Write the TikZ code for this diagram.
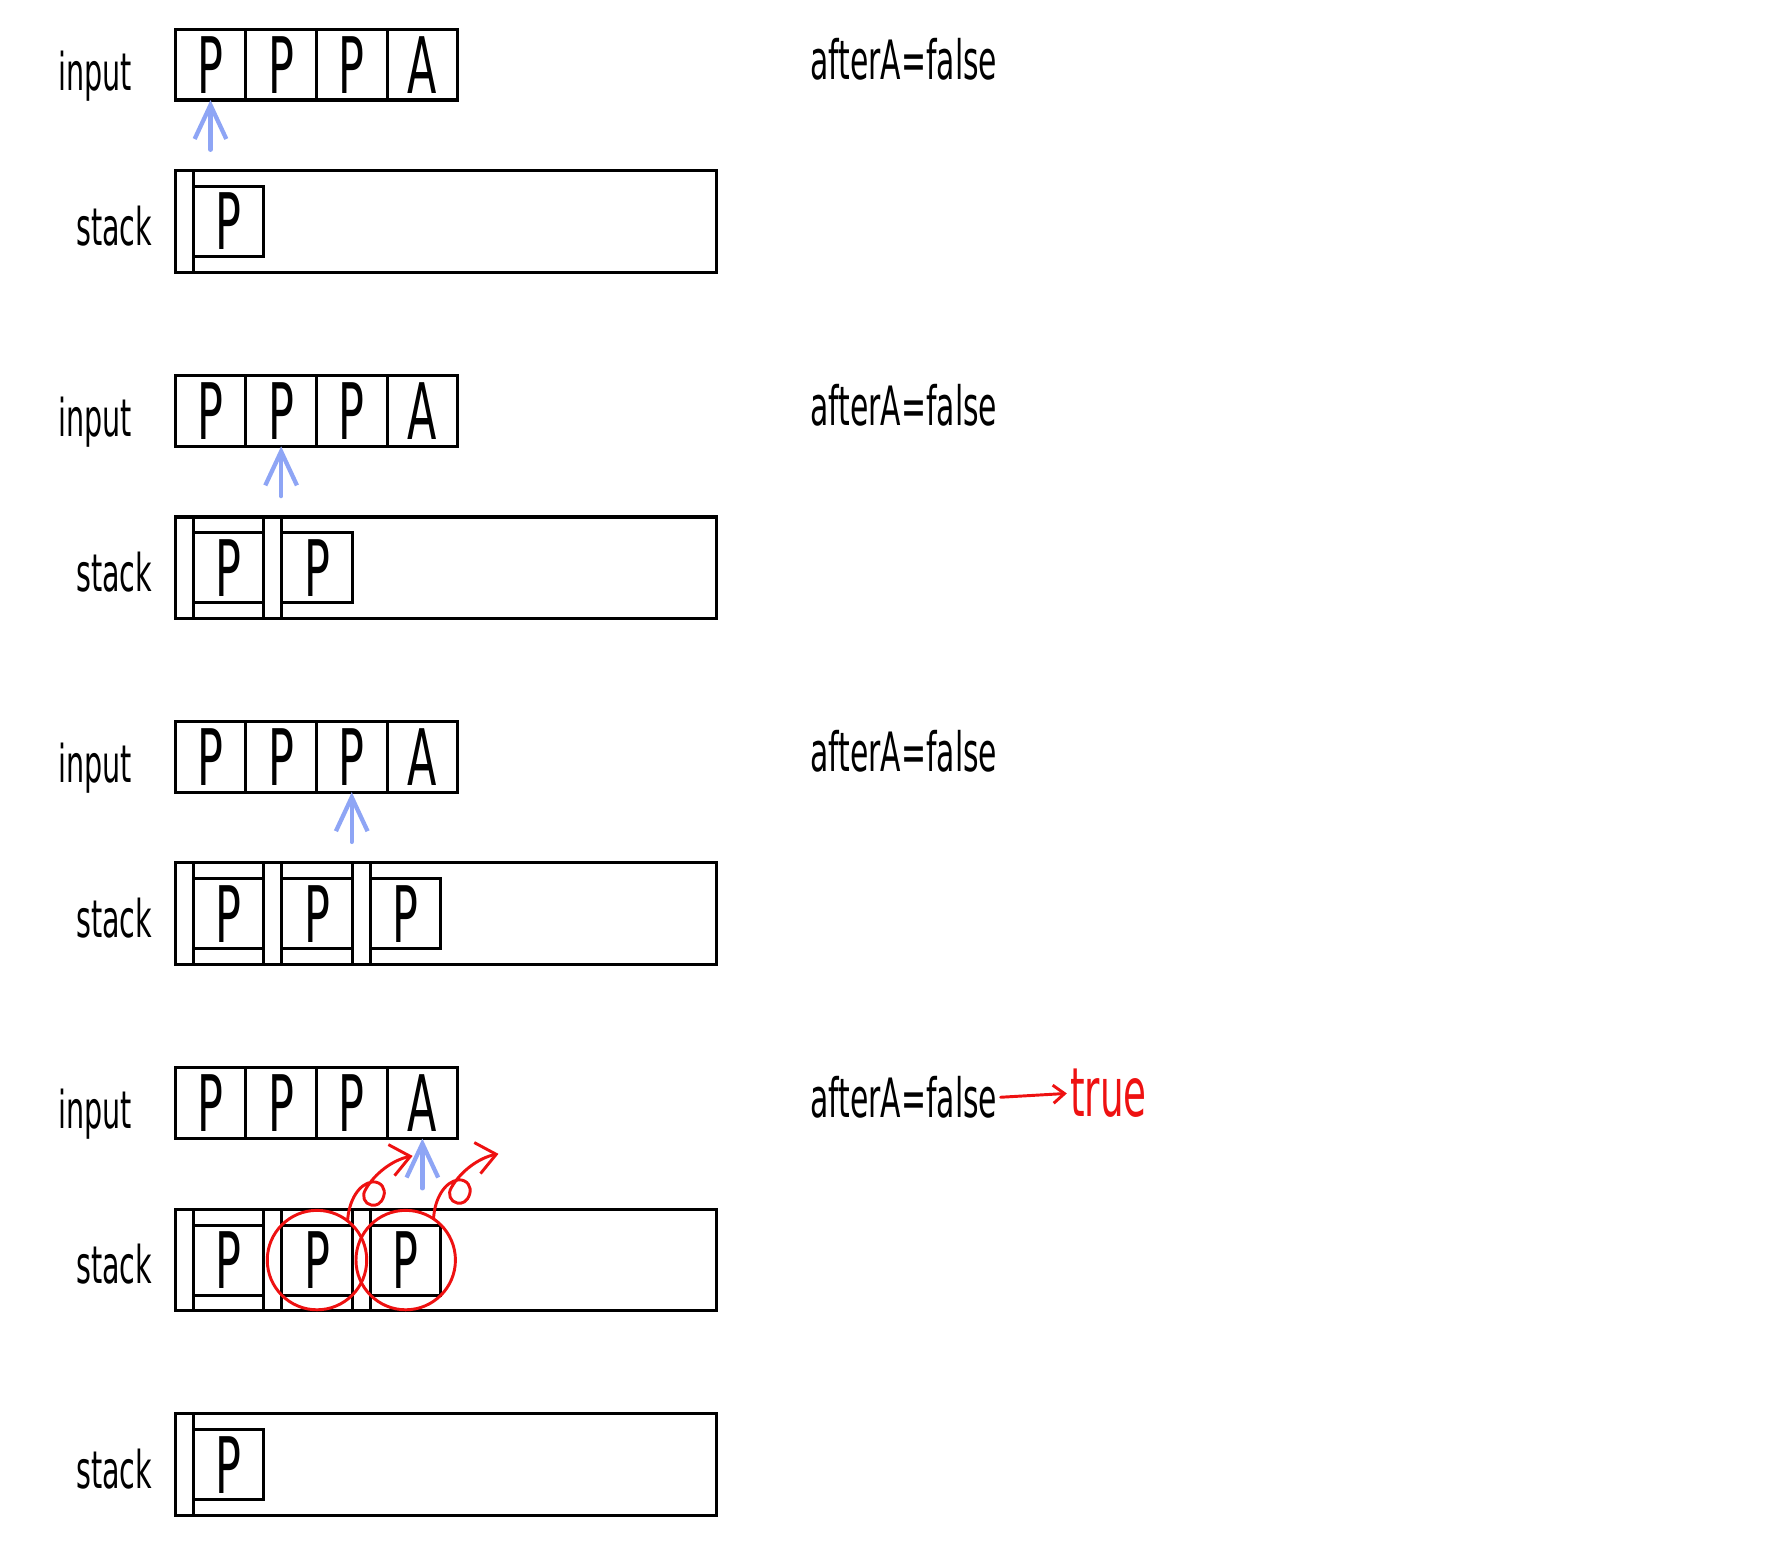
\documentclass[tikz,border=0pt]{standalone}
\usepackage{fontspec}
\newfontfamily\hand[FakeStretch=0.55]{DejaVu Sans}
\usetikzlibrary{arrows.meta}
\definecolor{penblue}{HTML}{8EA5F5}
\definecolor{penred}{HTML}{EE1111}
\begin{document}
\begin{tikzpicture}[x=1pt,y=-1pt,
  every node/.style={inner sep=0pt, outer sep=0pt},
  cell/.style={draw, line width=2.7pt, minimum width=62.5pt, minimum height=62.5pt, anchor=north west, font=\hand\fontsize{69}{69}\selectfont},
  slot/.style={draw, line width=2.7pt, minimum width=62pt, minimum height=62pt, anchor=north west, font=\hand\fontsize{69}{69}\selectfont},
  stackbox/.style={draw, line width=2.7pt, minimum width=479pt, minimum height=90pt, anchor=north west},
  marker/.style={draw, line width=2.7pt, minimum width=16pt, minimum height=90pt, anchor=north west},
  lbl/.style={font=\hand\fontsize{46}{46}\selectfont},
  flag/.style={font=\hand\fontsize{48}{48}\selectfont, anchor=base west},
  truetext/.style={font=\hand\fontsize{60}{60}\selectfont, anchor=base west, text=penred},
  pointer/.style={draw=penblue, line width=3.8pt, line cap=round, -{Straight Barb[length=30pt,width=28pt]}},
  redpen/.style={draw=penred, line width=2.6pt, line cap=round, line join=round},
  ring/.style={circle, draw=penred, line width=2.6pt, minimum size=88pt},
  curl/.pic={
    \draw[redpen, -{Straight Barb[length=17pt,width=28pt]}] (0,0)
      .. controls (1,-18) and (10,-33) .. (22,-34.5)
      .. controls (30,-35) and (34,-28) .. (32,-22)
      .. controls (30,-15) and (25,-13) .. (21,-14)
      .. controls (15,-15) and (12,-22) .. (16,-28)
      .. controls (24,-42) and (40,-54) .. (57.5,-57.5);
  }
]
\useasboundingbox (0,0) rectangle (1568,1367);

\foreach \k/\dy/\n in {1/0/1, 2/306.5/2, 3/612.5/3, 4/919/3} {
  \begin{scope}[shift={(0,\dy)}]
    \node[lbl] (inlbl-\k) at (84,67) {input};
    \foreach \j/\t in {1/P,2/P,3/P,4/A}
      \node[cell] (in-\k-\j) at ({155+62.5*(\j-1)},26) {\t};
    \node[flag] (flag-\k) at (717,70) {afterA=false};
    \node[lbl] (stlbl-\k) at (101,200) {stack};
    \node[stackbox] (st-\k) at (155,151) {};
    \foreach \j in {1,...,\n} {
      \node[marker] (mk-\k-\j) at ({155+78.5*(\j-1)},151) {};
      \node[slot] (sl-\k-\j) at ({171+78.5*(\j-1)},165) {P};
    }
  \end{scope}
}

% last stack
\node[lbl] (stlbl-5) at (101,1300) {stack};
\node[stackbox] (st-5) at (155,1251) {};
\node[marker] (mk-5-1) at (155,1251) {};
\node[slot] (sl-5-1) at (171,1265) {P};

% red marks in panel 4
\node[ring] (ring-2) at (sl-4-2.center) {};
\node[ring] (ring-3) at (sl-4-3.center) {};
\pic at (ring-2.52) {curl};
\pic at (ring-3.56) {curl};
\node[truetext] (true) at (947,988) {true};
\draw[redpen, -{Straight Barb[length=10pt,width=16pt]}, shorten <=3pt, shorten >=3pt] (flag-4.east) -- (true.west);

% pointers
\foreach \k in {1,2,3,4} {
  \coordinate (ptrfoot-\k) at ([yshift=-44pt]in-\k-\k.south);
  \draw[pointer] (ptrfoot-\k) -- (in-\k-\k.south);
}
\end{tikzpicture}
\end{document}
